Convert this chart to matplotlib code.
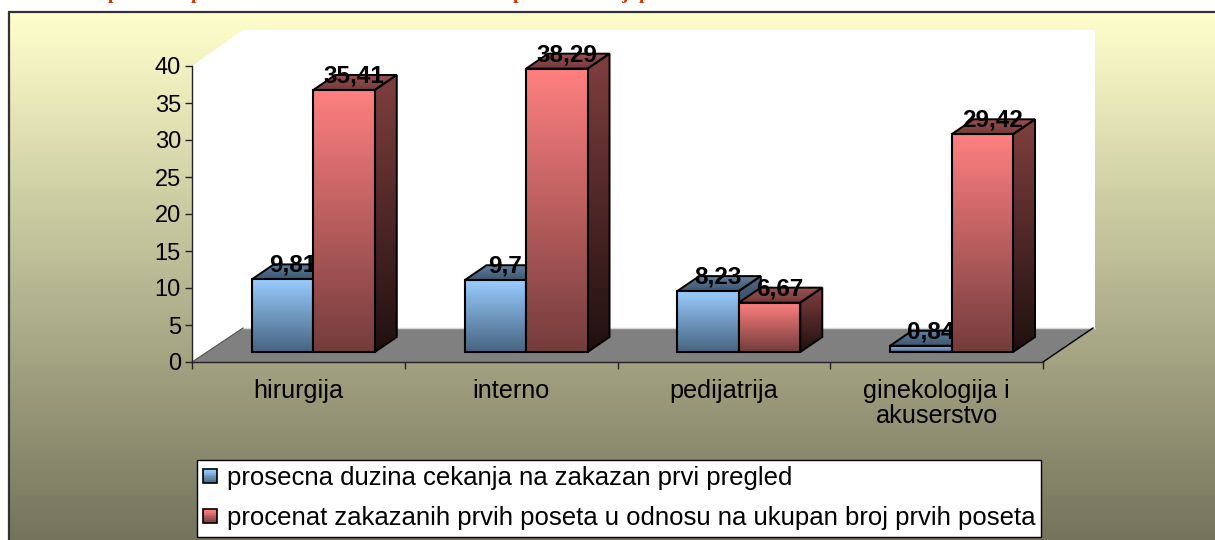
import numpy as np
import matplotlib
matplotlib.use("Agg")
import matplotlib.pyplot as plt
from matplotlib.legend_handler import HandlerBase
from matplotlib.patches import Polygon, Rectangle

plt.rcParams['font.family'] = ['Liberation Sans', 'DejaVu Sans']

categorias = ['hirurgija', 'interno', 'pedijatrija', 'ginekologija i\nakuserstvo']
cekanje = [9.81, 9.7, 8.23, 0.84]
procenat = [35.41, 38.29, 6.67, 29.42]
etikete_cekanje = ['9,81', '9,7', '8,23', '0,84']
etikete_procenat = ['35,41', '38,29', '6,67', '29,42']
yticks = [0, 5, 10, 15, 20, 25, 30, 35, 40]
legenda = ['prosecna duzina cekanja na zakazan prvi pregled',
           'procenat zakazanih prvih poseta u odnosu na ukupan broj prvih poseta']

W, H = 1215, 540
X0, X1, Y0, Y1 = 192, 1043, 362, 66   # plot box in pixels

def gradiente(arriba, abajo, n=128):
    c1 = np.array(matplotlib.colors.to_rgb(arriba))
    c2 = np.array(matplotlib.colors.to_rgb(abajo))
    t = np.linspace(0, 1, n)[:, None]
    return (c1 * (1 - t) + c2 * t)[:, None, :]

fig = plt.figure(figsize=(W / 100, H / 100), dpi=100, facecolor='white')

# fondo en pixeles
bg = fig.add_axes([0, 0, 1, 1])
bg.set_xlim(0, W)
bg.set_ylim(H, 0)
bg.axis('off')
bg.set_autoscale_on(False)
bg.imshow(gradiente('#ffffcc', '#74745c'), extent=(8, W, H, 12), aspect='auto', zorder=0)
bg.plot([8, W], [12, 12], color='#333333', lw=1.6, zorder=1, solid_capstyle='butt')
bg.plot([8.5, 8.5], [12, H], color='#333333', lw=1.6, zorder=1, solid_capstyle='butt')
bg.add_patch(Polygon([(X0, Y1), (243, 30), (1095, 30), (1095, 328), (243, 328), (X0, Y0)],
                     fc='white', ec='none', zorder=2))
bg.add_patch(Polygon([(X0, Y0), (243, 328), (1095, 328), (X1, Y0)],
                     fc='#808080', ec='none', zorder=3))
bg.plot([243, 1095], [328, 328], color='#d8d8d8', lw=1, zorder=3)
bg.plot([X1, 1093], [Y0, 328], color='black', lw=1, zorder=3)
bg.plot([X0, 243], [Y0, 328], color='#555555', lw=0.8, zorder=3)

# restos del titulo cortado arriba
for xp, letra in [(113, 'p'), (196, 'p'), (518, 'p'), (624, 'j'), (644, 'p')]:
    bg.text(xp, 3, letra, color='#cc3300', fontsize=14, fontweight='bold',
            family='Liberation Serif', ha='center', va='bottom', zorder=4,
            clip_on=True)

ax = fig.add_axes([X0 / W, 1 - Y0 / H, (X1 - X0) / W, (Y0 - Y1) / H])
ax.patch.set_visible(False)
ax.set_xlim(-0.5, 3.5)
ax.set_ylim(0, 40)
ax.set_autoscale_on(False)

ux = (X1 - X0) / 4.0    # pixeles por categoria
uy = (Y0 - Y1) / 40.0   # pixeles por unidad
base = 10 / uy
fx = 22 / ux            # profundidad de la barra
fy = 15 / uy
ancho = 61.5 / ux
izq = -0.219

def barra(x, v, frente, lado, tapa, etiqueta, z):
    y0 = base
    y1 = base + v
    # lado
    p = Polygon([(x + ancho, y0), (x + ancho + fx, y0 + fy), (x + ancho + fx, y1 + fy), (x + ancho, y1)],
                closed=True, fc='none', ec='black', lw=1.4, zorder=z + 0.3, clip_on=False)
    ax.add_patch(p)
    im = ax.imshow(gradiente(lado[0], lado[1]), extent=(x + ancho, x + ancho + fx, y0, y1 + fy),
                   aspect='auto', zorder=z + 0.2)
    im.set_clip_path(p)
    im.set_clip_box(fig.bbox)
    # tapa
    p = Polygon([(x, y1), (x + fx, y1 + fy), (x + ancho + fx, y1 + fy), (x + ancho, y1)],
                closed=True, fc='none', ec='black', lw=1.4, zorder=z + 0.3, clip_on=False)
    ax.add_patch(p)
    im = ax.imshow(gradiente(tapa[0], tapa[1]), extent=(x, x + ancho + fx, y1, y1 + fy),
                   aspect='auto', zorder=z + 0.2)
    im.set_clip_path(p)
    im.set_clip_box(fig.bbox)
    # frente
    ax.imshow(gradiente(frente[0], frente[1]), extent=(x, x + ancho, y0, y1),
              aspect='auto', zorder=z + 0.4)
    ax.bar(x, v, width=ancho, bottom=y0, align='edge', fc='none', ec='black', lw=1.5, zorder=z + 0.5)
    ax.text(x + ancho / 2 + 10 / ux, y1 + 14 / uy, etiqueta, ha='center', va='center',
            fontsize=17.5, fontweight='bold', color='black', zorder=z + 0.6, clip_on=False)

azul = (('#99ccff', '#466480'), ('#4d6680', '#1c2733'), ('#5f7f9f', '#3f566e'))
rojo = (('#ff8080', '#743c3c'), ('#803f3f', '#201010'), ('#9c5050', '#703a3a'))

for i in range(len(categorias)):
    barra(i + izq, cekanje[i], azul[0], azul[1], azul[2], etikete_cekanje[i], 10 + i * 2)
    barra(i + izq + ancho, procenat[i], rojo[0], rojo[1], rojo[2], etikete_procenat[i], 11 + i * 2)

ax.set_yticks(yticks)
ax.set_yticklabels([str(v) for v in yticks], fontsize=17)
ax.set_xticks(range(len(categorias)))
ax.set_xticklabels(categorias, fontsize=18.2, linespacing=1.05)
ax.set_xticks([-0.5, 0.5, 1.5, 2.5, 3.5], minor=True)
ax.tick_params(axis='x', which='major', length=0, pad=12)
ax.tick_params(axis='x', which='minor', length=5, width=1, color='#222222')
ax.tick_params(axis='y', length=5, width=1, color='#222222', pad=3)
for s in ['top', 'right']:
    ax.spines[s].set_visible(False)
for s in ['left', 'bottom']:
    ax.spines[s].set_color('#222222')
    ax.spines[s].set_linewidth(1)

# leyenda con muestras en degradado
class Muestra(HandlerBase):
    def __init__(self, colores):
        super().__init__()
        self.colores = colores
    def create_artists(self, legend, orig, xd, yd, w, h, fs, trans):
        lado = 10.0
        x0 = -xd
        y0 = -yd + (h - lado) / 2
        g = gradiente(self.colores[0], self.colores[1], 8)
        out = []
        for k in range(8):
            out.append(Rectangle((x0, y0 + lado * (7 - k) / 8), lado, lado / 8, fc=g[k, 0], ec='none', transform=trans))
        out.append(Rectangle((x0, y0), lado, lado, fc='none', ec='black', lw=1.2, transform=trans))
        return out

h1 = Rectangle((0, 0), 1, 1)
h2 = Rectangle((0, 0), 1, 1)
leg = fig.legend([h1, h2], legenda,
                 handler_map={h1: Muestra(azul[0]), h2: Muestra(rojo[0])},
                 loc='upper left', bbox_to_anchor=(197 / W, 1 - 460 / H), bbox_transform=fig.transFigure,
                 fontsize=18.5, frameon=True, fancybox=False, edgecolor='black', facecolor='white',
                 framealpha=1, borderpad=0.25, labelspacing=0.62, handlelength=0.6, handletextpad=0.3,
                 borderaxespad=0)
leg.get_frame().set_linewidth(1)

fig.savefig('out.png', dpi=100)
